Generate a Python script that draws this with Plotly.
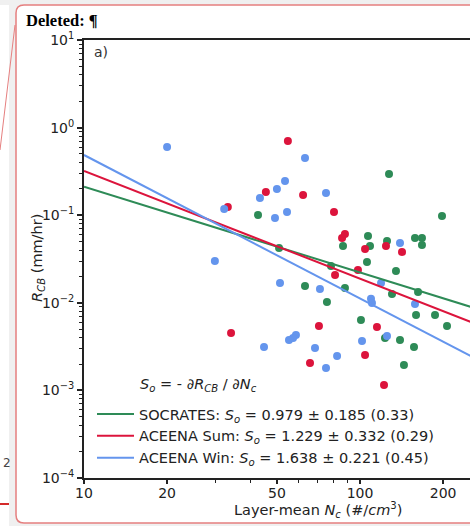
import plotly.graph_objects as go

# ---------------- data ----------------
soc_x = [42.7, 127.4, 198.2, 106.9, 86.8, 108.7, 125.3, 158.2, 167.7, 167.7,
         50.9, 78.5, 106.0, 135.0, 63.2, 88.2, 75.9, 130.6, 162.3, 159.6,
         187.0, 100.8, 206.7, 123.2, 139.6, 156.9, 144.3]
soc_y = [0.1005, 0.295, 0.0979, 0.0579, 0.0445, 0.0445, 0.0508, 0.0549, 0.0549, 0.0457,
         0.0422, 0.0263, 0.0292, 0.0231, 0.0156, 0.0148, 0.0102, 0.0126, 0.0133, 0.00726,
         0.00726, 0.00636, 0.00543, 0.00396, 0.00376, 0.00313, 0.00195]

sum_x = [33.2, 54.8, 45.6, 62.2, 80.5, 86.1, 88.2, 104.3, 124.2, 142.0,
         81.2, 98.3, 34.1, 71.0, 115.2, 104.3, 65.9, 122.2]
sum_y = [0.124, 0.703, 0.184, 0.170, 0.109, 0.0549, 0.0610, 0.0411, 0.0445, 0.0380,
         0.0208, 0.0237, 0.00452, 0.00543, 0.00529, 0.00254, 0.00206, 0.00115]

win_x = [20.0, 29.8, 32.2, 43.4, 50.0, 53.5, 63.2, 75.3, 49.2, 54.4,
         139.6, 51.3, 71.6, 119.2, 109.6, 110.5, 158.2, 125.3, 101.7, 82.6,
         58.6, 57.2, 55.3, 44.9, 68.7, 75.3]
win_y = [0.600, 0.0300, 0.118, 0.157, 0.199, 0.246, 0.450, 0.179, 0.0929, 0.109,
         0.0482, 0.0168, 0.0144, 0.0168, 0.0111, 0.00995, 0.0097, 0.00418, 0.00366, 0.00247,
         0.00429, 0.00396, 0.00376, 0.00313, 0.00305, 0.00180]

series_names = ["SOCRATES", "ACEENA Sum", "ACEENA Win"]
slopes = [0.979, 1.229, 1.638]
slope_err = [0.185, 0.332, 0.221]
r2_vals = [0.33, 0.29, 0.45]
fit_at_10 = [0.2115, 0.3196, 0.4867]   # fitted R_CB at Nc = 10
fit_x = [10, 300]

x_tickvals = [10, 20, 50, 100, 200]
x_ticktext = ["10", "20", "50", "100", "200"]
x_minor = [30, 40, 60, 70, 80, 90, 300]
y_tickvals = [1e-4, 1e-3, 1e-2, 1e-1, 1e0, 1e1]
y_ticktext = ["10<sup>\u22124</sup>", "10<sup>\u22123</sup>", "10<sup>\u22122</sup>",
              "10<sup>\u22121</sup>", "10<sup>0</sup>", "10<sup>1</sup>"]
y_minor = [m * 10 ** e for e in range(-4, 1) for m in range(2, 10)]

colors = ["#2e8b57", "#dc143c", "#6495ed"]

# ---------------- layout geometry ----------------
W, H = 470, 526
L, T, B, R = 84, 40, 48, 0
PW, PH = W - L - R, H - T - B


def px(x):
    return (x - L) / PW


def py(y):
    return (H - B - y) / PH


FONT = "DejaVu Sans"
TXT = "#222222"

fig = go.Figure()

pts = [(soc_x, soc_y), (sum_x, sum_y), (win_x, win_y)]
for (xs, ys), c in zip(pts, colors):
    fig.add_trace(go.Scatter(x=xs, y=ys, mode="markers", showlegend=False,
                             marker=dict(size=8, color=c, line=dict(width=0))))

for name, s, e, r, a, c in zip(series_names, slopes, slope_err, r2_vals, fit_at_10, colors):
    fy = [a * (xv / 10.0) ** (-s) for xv in fit_x]
    label = f"{name}: <i>S<sub>o</sub></i> = {s:.3f} \u00b1 {e:.3f} ({r:.2f})"
    fig.add_trace(go.Scatter(x=fit_x, y=fy, mode="lines", name=label,
                             line=dict(color=c, width=2)))

ann = []
ann.append(dict(text="<b>Deleted: \u00b6</b>", x=px(24), y=py(21), xref="paper", yref="paper",
                xanchor="left", yanchor="middle", showarrow=False,
                font=dict(family="Liberation Serif", size=16.5, color="black")))
ann.append(dict(text="a)", x=px(92), y=py(52), xref="paper", yref="paper",
                xanchor="left", yanchor="middle", showarrow=False,
                font=dict(family=FONT, size=14, color="#333333")))
ann.append(dict(text="<i>S<sub>o</sub></i> = - \u2202<i>R<sub>CB</sub></i> / \u2202<i>N<sub>c</sub></i>",
                x=px(138), y=py(385), xref="paper", yref="paper",
                xanchor="left", yanchor="middle", showarrow=False,
                font=dict(family=FONT, size=14.5, color=TXT)))
ann.append(dict(text="Layer-mean <i>N<sub>c</sub></i> (#/<i>cm</i><sup>3</sup>)",
                x=px(318), y=py(510), xref="paper", yref="paper",
                xanchor="center", yanchor="middle", showarrow=False,
                font=dict(family=FONT, size=14.5, color=TXT)))
ann.append(dict(text="<i>R<sub>CB</sub></i> (mm/hr)", textangle=-90,
                x=px(38), y=py(258), xref="paper", yref="paper",
                xanchor="center", yanchor="middle", showarrow=False,
                font=dict(family=FONT, size=14.5, color=TXT)))
ann.append(dict(text="2", x=px(1), y=py(463), xref="paper", yref="paper",
                xanchor="left", yanchor="middle", showarrow=False,
                font=dict(family=FONT, size=12, color="#444444")))

# rounded comment box
bx0, bx1, by0, by1, rr = 16, 490, 5, 523, 8
path = (f"M {px(bx0 + rr)},{py(by0)} L {px(bx1)},{py(by0)} L {px(bx1)},{py(by1)} "
        f"L {px(bx0 + rr)},{py(by1)} Q {px(bx0)},{py(by1)} {px(bx0)},{py(by1 - rr)} "
        f"L {px(bx0)},{py(by0 + rr)} Q {px(bx0)},{py(by0)} {px(bx0 + rr)},{py(by0)} Z")
shapes = [
    dict(type="rect", xref="paper", yref="paper", x0=px(0), x1=px(9), y0=py(5), y1=py(526),
         fillcolor="white", line=dict(width=0), layer="below"),
    dict(type="path", path=path, xref="paper", yref="paper",
         fillcolor="white", line=dict(color="#e57f7f", width=1.5), layer="below"),
    dict(type="line", xref="paper", yref="paper", x0=px(15), y0=py(25), x1=px(0), y1=py(150),
         line=dict(color="#e57f7f", width=1)),
    dict(type="line", xref="paper", yref="paper", x0=px(0), y0=py(504), x1=px(9), y1=py(504),
         line=dict(color="#d42a2a", width=2)),
]

fig.update_layout(
    width=W, height=H,
    margin=dict(l=L, r=R, t=T, b=B, pad=0),
    paper_bgcolor="#f0f0f0", plot_bgcolor="rgba(0,0,0,0)",
    font=dict(family=FONT, size=14, color=TXT),
    annotations=ann, shapes=shapes,
    legend=dict(x=px(92), y=py(398), xanchor="left", yanchor="top",
                bgcolor="rgba(0,0,0,0)", borderwidth=0, itemwidth=37,
                font=dict(family=FONT, size=14.5, color=TXT), tracegroupgap=0),
    xaxis=dict(type="log", range=[1, 1 + PW / 276.0], showgrid=False, zeroline=False,
               tickmode="array", tickvals=x_tickvals, ticktext=x_ticktext,
               ticks="outside", ticklen=4, tickwidth=1.5, tickcolor="#222",
               ticklabelstandoff=-3,
               showline=True, linecolor="#222", linewidth=2, mirror=True,
               tickfont=dict(family=FONT, size=14, color=TXT),
               minor=dict(tickmode="array", tickvals=x_minor, ticks="outside",
                          ticklen=3, tickwidth=1.2, tickcolor="#222", showgrid=False)),
    yaxis=dict(type="log", range=[-4, 1], showgrid=False, zeroline=False,
               tickmode="array", tickvals=y_tickvals, ticktext=y_ticktext,
               ticks="outside", ticklen=5, tickwidth=1.5, tickcolor="#222",
               showline=True, linecolor="#222", linewidth=2, mirror=False,
               tickfont=dict(family=FONT, size=14, color=TXT),
               minor=dict(tickmode="array", tickvals=y_minor, ticks="outside",
                          ticklen=3, tickwidth=1.2, tickcolor="#222", showgrid=False)),
)

fig.write_html("out.html")
